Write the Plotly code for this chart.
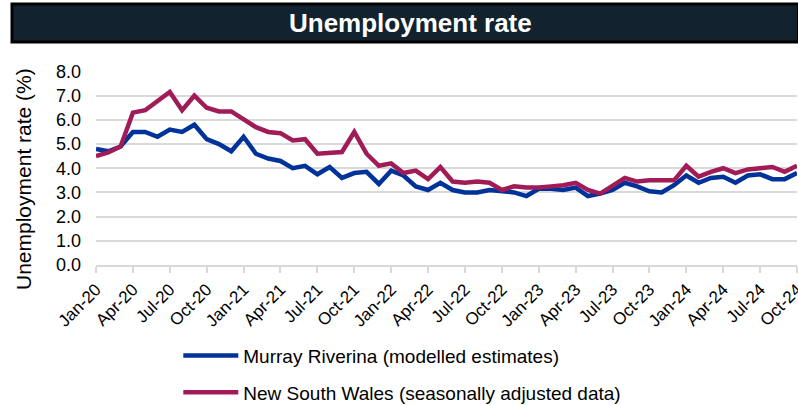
import plotly.graph_objects as go

months = ["Jan", "Feb", "Mar", "Apr", "May", "Jun", "Jul", "Aug", "Sep", "Oct", "Nov", "Dec"]
categories = [f"{m}-{y:02d}" for y in range(20, 25) for m in months][:58]  # Jan-20 .. Oct-24

murray_riverina = [4.8, 4.7, 4.9, 5.5, 5.5, 5.3, 5.6, 5.5, 5.8, 5.2, 5.0, 4.7,
                   5.3, 4.6, 4.4, 4.3, 4.0, 4.1, 3.75, 4.05, 3.6, 3.8, 3.85, 3.35,
                   3.9, 3.7, 3.25, 3.1, 3.4, 3.1, 3.0, 3.0, 3.1, 3.05, 3.0, 2.85,
                   3.15, 3.15, 3.1, 3.2, 2.85, 2.95, 3.1, 3.4, 3.25, 3.05, 3.0, 3.3,
                   3.7, 3.4, 3.6, 3.65, 3.4, 3.7, 3.75, 3.55, 3.55, 3.8]
nsw = [4.5, 4.65, 4.9, 6.3, 6.4, 6.8, 7.15, 6.4, 7.0, 6.5, 6.35, 6.35,
       6.0, 5.7, 5.5, 5.45, 5.15, 5.2, 4.6, 4.65, 4.67, 5.5, 4.6, 4.1,
       4.2, 3.8, 3.9, 3.55, 4.05, 3.45, 3.4, 3.45, 3.4, 3.1, 3.25, 3.2,
       3.2, 3.25, 3.3, 3.4, 3.1, 2.95, 3.3, 3.6, 3.45, 3.5, 3.5, 3.5,
       4.1, 3.65, 3.85, 4.0, 3.8, 3.95, 4.0, 4.05, 3.85, 4.1]
tick_labels = categories[::3]
y_ticks = [0, 1, 2, 3, 4, 5, 6, 7, 8]

FONT = "Liberation Sans, Arial, sans-serif"
L, T, W, H = 96, 71, 701, 194  # plot area in pixels


def px(x):
    return (x - L) / W


def py(y):
    return (T + H - y) / H


fig = go.Figure()
fig.add_trace(go.Scatter(x=categories, y=murray_riverina, mode="lines",
                         name="Murray Riverina (modelled estimates)",
                         line=dict(color="#00339A", width=4.5), legendgroup="a"))
fig.add_trace(go.Scatter(x=categories, y=nsw, mode="lines",
                         name="New South Wales (seasonally adjusted data)",
                         line=dict(color="#A11C57", width=4.5), legendgroup="b"))

fig.update_layout(
    width=798, height=405,
    margin=dict(l=L, r=798 - L - W, t=T, b=405 - T - H, autoexpand=False),
    paper_bgcolor="white", plot_bgcolor="white",
    font=dict(family=FONT, color="#000000", size=17),
    xaxis=dict(type="category", categoryorder="array", categoryarray=categories,
               range=[0, 57], tickmode="array", tickvals=tick_labels, ticktext=tick_labels,
               tickangle=-45, tickfont=dict(size=17), showgrid=False, automargin=False,
               showline=True, linecolor="#d9d9d9", linewidth=2,
               ticks="outside", ticklen=6, tickcolor="#d9d9d9", tickwidth=1.5,
               zeroline=False),
    yaxis=dict(range=[0, 8.02], tickmode="array", tickvals=y_ticks, automargin=False,
               ticktext=[f"{v:.1f}" for v in y_ticks], tickfont=dict(size=18),
               ticklabelstandoff=14,
               showgrid=True, gridcolor="#d9d9d9", gridwidth=2, zeroline=False),
    showlegend=True,
    legend=dict(x=0.1174, y=-0.369, xanchor="left", yanchor="top", orientation="v",
                font=dict(size=19), tracegroupgap=9, traceorder="grouped",
                itemwidth=55, bgcolor="rgba(0,0,0,0)"),
    shapes=[dict(type="rect", xref="paper", yref="paper",
                 x0=px(12), x1=1.002, y0=py(42), y1=py(4),
                 fillcolor="#12232F", line=dict(color="#000000", width=3), layer="above")],
    annotations=[
        dict(text="<b>Unemployment rate</b>", xref="paper", yref="paper",
             x=px(410), y=py(23), xanchor="center", yanchor="middle",
             showarrow=False, font=dict(size=26, color="white", family=FONT)),
        dict(text="Unemployment rate (%)", xref="paper", yref="paper",
             x=px(23), y=py(179), xanchor="center", yanchor="middle", textangle=-90,
             showarrow=False, font=dict(size=21, color="#000000", family=FONT)),
    ],
)

fig.write_html("out.html", config={"displayModeBar": False},
               post_script="document.body.style.margin='0';document.body.style.overflow='hidden';")
